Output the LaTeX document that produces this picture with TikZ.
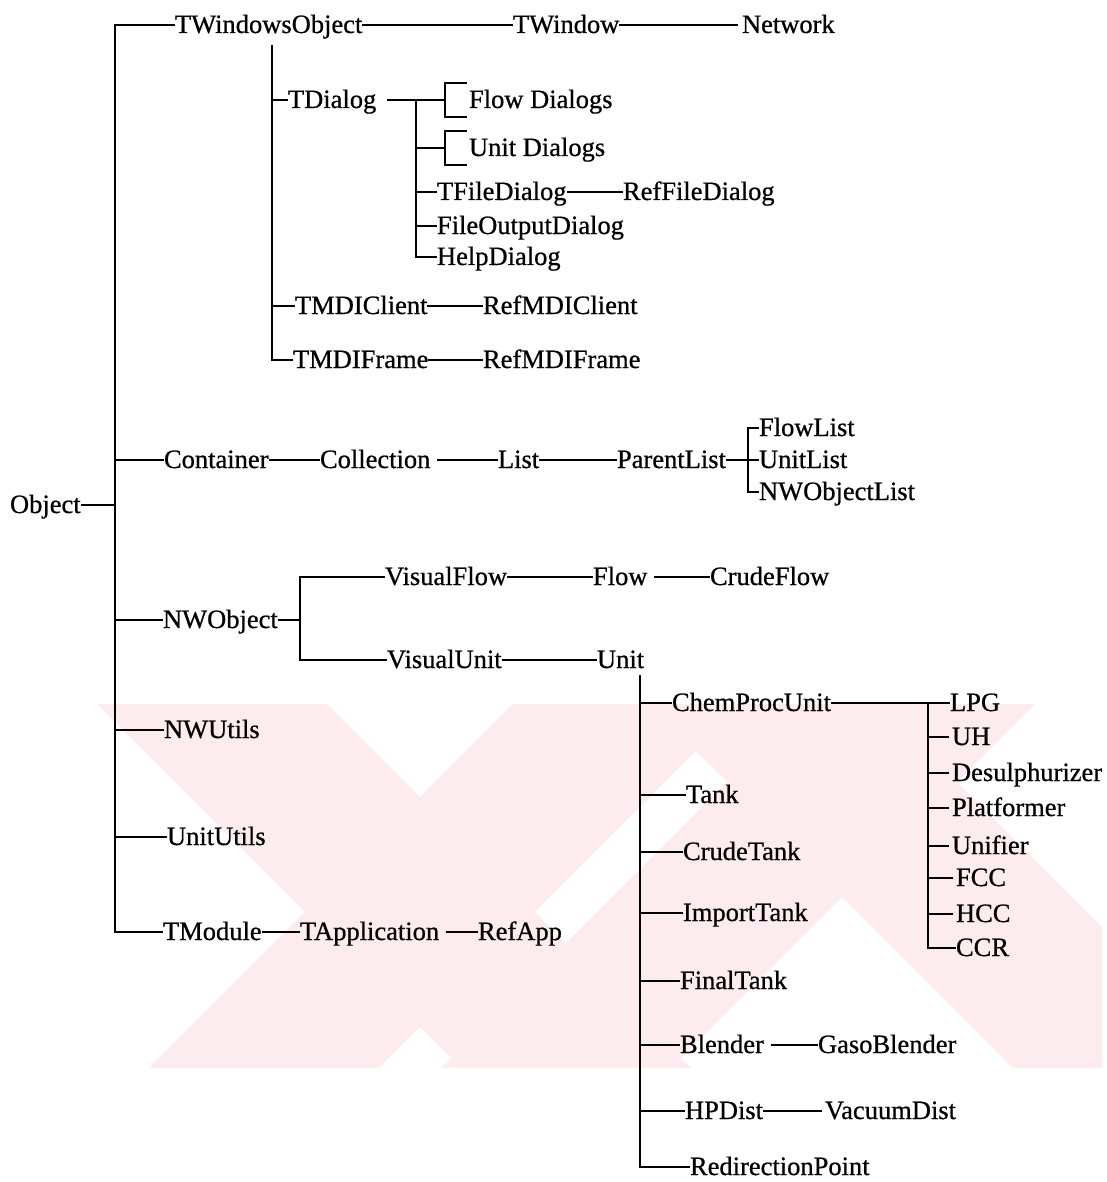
\documentclass[tikz,border=0pt]{standalone}
\usepackage{fontspec}
\setmainfont{Liberation Serif}[FakeBold=0.7]
\newfontfamily\scanfont{Liberation Serif}[FakeBold=0.7]
\begin{document}
\begin{tikzpicture}[x=1pt,y=-1pt,
  lbl/.style={anchor=west,inner sep=0pt,outer sep=0pt,text height=18pt,text depth=2pt,font=\scanfont\fontsize{26.5}{30}\selectfont},
  ln/.style={line width=2.9pt},
  wm/.style={fill={rgb,255:red,253;green,236;blue,239}}]
\useasboundingbox (0,0) rectangle (1107,1182);
% watermark
\begin{scope}
\clip (95,704) rectangle (1102,1068);
\fill[wm] (97,704) -- (327,704) -- (691,1068) -- (461,1068) -- cycle;
\fill[wm] (513,704) -- (743,704) -- (379,1068) -- (149,1068) -- cycle;
\fill[wm] (649,704) -- (879,704) -- (1243,1068) -- (1013,1068) -- cycle;
\fill[wm] (805,704) -- (1035,704) -- (671,1068) -- (441,1068) -- cycle;
\end{scope}
% nodes
\node[lbl] (obj) at (10,505) {Object};
\node[lbl] (two) at (175,25) {TWindowsObject};
\node[lbl] (twin) at (513,25) {TWindow};
\node[lbl] (net) at (742,25) {Network};
\node[lbl] (tdlg) at (288,100) {TDialog};
\node[lbl] (fd) at (469,100) {Flow Dialogs};
\node[lbl] (ud) at (469,148) {Unit Dialogs};
\node[lbl] (tfd) at (437,192) {TFileDialog};
\node[lbl] (rfd) at (623,192) {RefFileDialog};
\node[lbl] (fod) at (437,226) {FileOutputDialog};
\node[lbl] (help) at (437,257) {HelpDialog};
\node[lbl] (tmc) at (295,306) {TMDIClient};
\node[lbl] (rmc) at (483,306) {RefMDIClient};
\node[lbl] (tmf) at (293,360) {TMDIFrame};
\node[lbl] (rmf) at (483,360) {RefMDIFrame};
\node[lbl] (cont) at (164,460) {Container};
\node[lbl] (coll) at (320,460) {Collection};
\node[lbl] (list) at (498,460) {List};
\node[lbl] (plist) at (617,460) {ParentList};
\node[lbl] (flist) at (759,428) {FlowList};
\node[lbl] (ulist) at (759,460) {UnitList};
\node[lbl] (nwol) at (759,492) {NWObjectList};
\node[lbl] (nwo) at (163,620) {NWObject};
\node[lbl] (vf) at (385,577) {VisualFlow};
\node[lbl] (flow) at (593,577) {Flow};
\node[lbl] (crude) at (710,577) {CrudeFlow};
\node[lbl] (vu) at (387,660) {VisualUnit};
\node[lbl] (unit) at (597,660) {Unit};
\node[lbl] (cpu) at (672,703) {ChemProcUnit};
\node[lbl] (lpg) at (950,703) {LPG};
\node[lbl] (uh) at (952,737) {UH};
\node[lbl] (des) at (952,773) {Desulphurizer};
\node[lbl] (plat) at (952,808) {Platformer};
\node[lbl] (unif) at (952,846) {Unifier};
\node[lbl] (fcc) at (956,878) {FCC};
\node[lbl] (hcc) at (956,914) {HCC};
\node[lbl] (ccr) at (956,948) {CCR};
\node[lbl] (tank) at (686,795) {Tank};
\node[lbl] (crt) at (683,852) {CrudeTank};
\node[lbl] (imp) at (683,913) {ImportTank};
\node[lbl] (fin) at (680,981) {FinalTank};
\node[lbl] (blend) at (680,1045) {Blender};
\node[lbl] (gaso) at (818,1045) {GasoBlender};
\node[lbl] (hpd) at (685,1111) {HPDist};
\node[lbl] (vac) at (825,1111) {VacuumDist};
\node[lbl] (redir) at (690,1167) {RedirectionPoint};
\node[lbl] (nwu) at (164,730) {NWUtils};
\node[lbl] (uu) at (167,837) {UnitUtils};
\node[lbl] (tmod) at (163,932) {TModule};
\node[lbl] (tapp) at (300,932) {TApplication};
\node[lbl] (refapp) at (478,932) {RefApp};
% buses
\coordinate (bus1) at (115,0);
\coordinate (bus2top) at (272,45);
\coordinate (bus3) at (416,0);
\coordinate (bus4) at (300,0);
\coordinate (bus5top) at (640,675);
\coordinate (bus6) at (928,0);
% main bus
\draw[ln] (obj.east) -- (bus1 |- obj.east);
\draw[ln] (two.west) -| (bus1 |- tmod.west) -- (tmod.west);
\foreach \n in {cont,nwo,nwu,uu} \draw[ln] (bus1 |- \n.west) -- (\n.west);
% TWindowsObject chain
\draw[ln] (two.east) -- (twin.west);
\draw[ln] (twin.east) -- ([xshift=-4pt]net.west);
\draw[ln] (bus2top) |- (tmf.west);
\foreach \n in {tdlg,tmc} \draw[ln] (bus2top |- \n.west) -- (\n.west);
\draw[ln] (tmc.east) -- (rmc.west);
\draw[ln] (tmf.east) -- (rmf.west);
% TDialog
\draw[ln] ([xshift=11pt]tdlg.east) -- ([xshift=-24pt]fd.west);
\draw[ln] (bus3 |- tdlg.east) |- (help.west);
\draw[ln] (bus3 |- ud.west) -- ([xshift=-24pt]ud.west);
\foreach \n in {fd,ud} \draw[ln] ([shift={(-2,-17)}]\n.west) -- ++(-22,0) -- ++(0,34) -- ++(22,0);
\foreach \n in {tfd,fod} \draw[ln] (bus3 |- \n.west) -- (\n.west);
\draw[ln] (tfd.east) -- (rfd.west);
% Container chain
\draw[ln] (cont.east) -- (coll.west);
\draw[ln] ([xshift=7pt]coll.east) -- (list.west);
\draw[ln] (list.east) -- (plist.west);
\draw[ln] (plist.east) -- (ulist.west);
\draw[ln] (flist.west) -- ++(-11,0) |- (nwol.west);
% NWObject
\draw[ln] (nwo.east) -- (bus4 |- nwo.east);
\draw[ln] (vf.west) -| (bus4 |- vu.west) -- (vu.west);
\draw[ln] (vf.east) -- (flow.west);
\draw[ln] ([xshift=7pt]flow.east) -- (crude.west);
\draw[ln] (vu.east) -- (unit.west);
% Unit
\draw[ln] (bus5top) |- (redir.west);
\foreach \n in {cpu,tank,crt,imp,fin,blend,hpd} \draw[ln] (bus5top |- \n.west) -- (\n.west);
\draw[ln] ([xshift=7pt]blend.east) -- (gaso.west);
\draw[ln] (hpd.east) -- ([xshift=-3pt]vac.west);
\draw[ln] (cpu.east) -- (lpg.west);
\draw[ln] (bus6 |- lpg.west) |- (ccr.west);
\foreach \n in {uh,des,plat,unif,fcc,hcc} \draw[ln] (bus6 |- \n.west) -- ([xshift=-3pt]\n.west);
% TModule chain
\draw[ln] (tmod.east) -- (tapp.west);
\draw[ln] ([xshift=7pt]tapp.east) -- (refapp.west);
\end{tikzpicture}
\end{document}
